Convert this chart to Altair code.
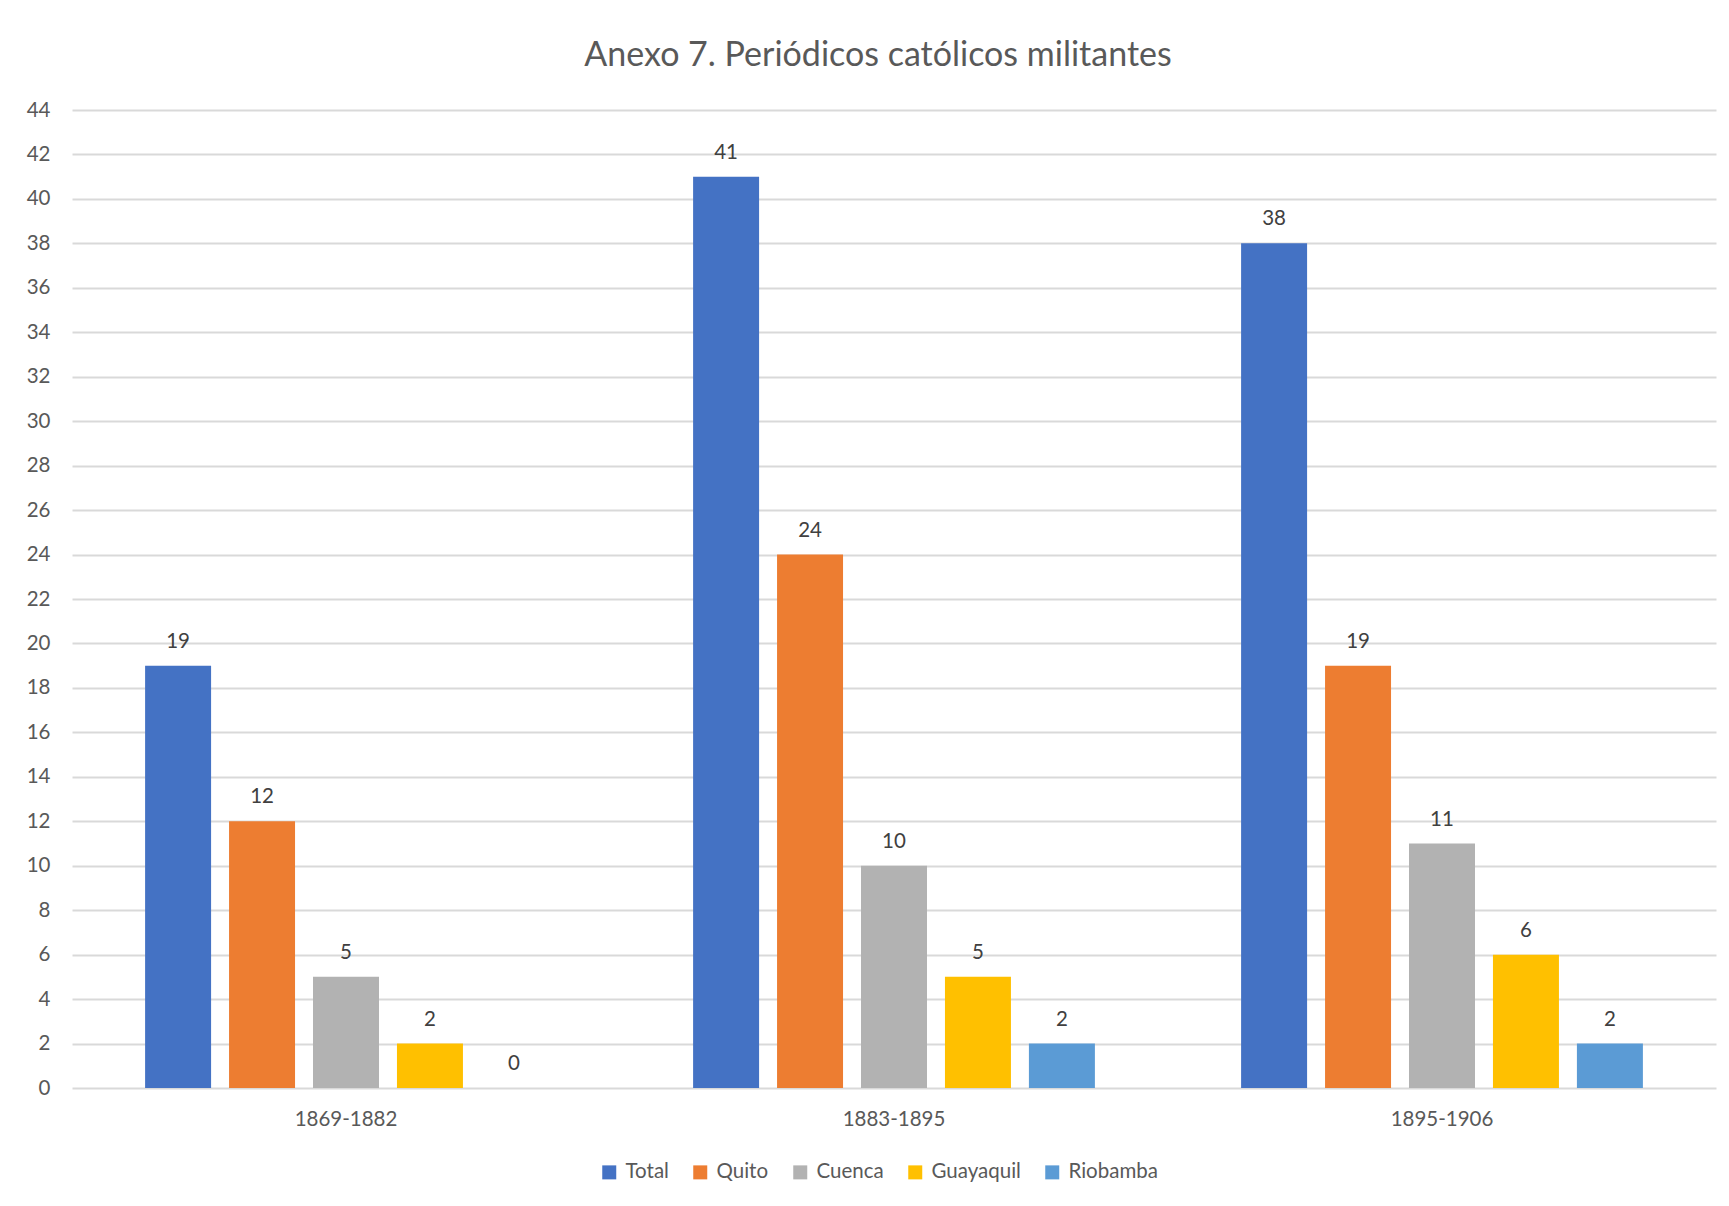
import altair as alt
import pandas as pd

categories = ["1869-1882", "1883-1895", "1895-1906"]
series = ["Total", "Quito", "Cuenca", "Guayaquil", "Riobamba"]
total = [19, 41, 38]
quito = [12, 24, 19]
cuenca = [5, 10, 11]
guayaquil = [2, 5, 6]
riobamba = [0, 2, 2]
colors = ["#4472C4", "#ED7D31", "#B2B2B2", "#FFC000", "#5B9BD5"]
y_ticks = list(range(0, 46, 2))

values = {"Total": total, "Quito": quito, "Cuenca": cuenca,
          "Guayaquil": guayaquil, "Riobamba": riobamba}
rows = []
for s in series:
    for c, v in zip(categories, values[s]):
        rows.append({"Periodo": c, "Serie": s, "Valor": v})
df = pd.DataFrame(rows)

FONT = "Lato"
GREY = "#595959"

base = alt.Chart(df).encode(
    x=alt.X("Periodo:N", sort=categories,
            scale=alt.Scale(paddingInner=0.234, paddingOuter=0.117),
            axis=alt.Axis(title=None, labelAngle=0, ticks=False, domain=False,
                          labelPadding=21, labelFontSize=20.5, labelColor=GREY,
                          labelFont=FONT, grid=False)),
    xOffset=alt.XOffset("Serie:N", sort=series,
                        scale=alt.Scale(paddingInner=0.214, paddingOuter=0.107)),
    y=alt.Y("Valor:Q", scale=alt.Scale(domain=[0, 44], nice=False),
            axis=alt.Axis(title=None, values=y_ticks, ticks=False, domain=False,
                          labelPadding=22, labelFontSize=20.5, labelColor=GREY,
                          labelFont=FONT, gridColor="#D9D9D9", gridWidth=2)),
)

bars = base.mark_bar().encode(
    color=alt.Color("Serie:N", sort=series,
                    scale=alt.Scale(domain=series, range=colors),
                    legend=alt.Legend(title=None, orient="none", direction="horizontal",
                                      columns=5, legendX=527, legendY=1052,
                                      symbolType="square", symbolSize=196,
                                      symbolStrokeWidth=0, labelFontSize=20.5,
                                      labelFont=FONT, labelColor=GREY,
                                      labelOffset=6, columnPadding=21))
)

labels = base.mark_text(baseline="alphabetic", align="center", dy=-18,
                        fontSize=20.5, font=FONT, color="#404040").encode(
    text=alt.Text("Valor:Q")
)

chart = alt.layer(bars, labels).properties(
    width=1644, height=978,
    background="white",
    title=alt.TitleParams("Anexo 7. Periódicos católicos militantes",
                          fontSize=34, font=FONT, fontWeight="normal",
                          color=GREY, anchor="middle", offset=27, dx=-16),
    autosize=alt.AutoSizeParams(type="none"),
    padding={"left": 72, "top": 110, "right": 13, "bottom": 118},
).configure_view(stroke=None)

chart.save("out.html", embed_options={"renderer": "svg", "actions": False})
